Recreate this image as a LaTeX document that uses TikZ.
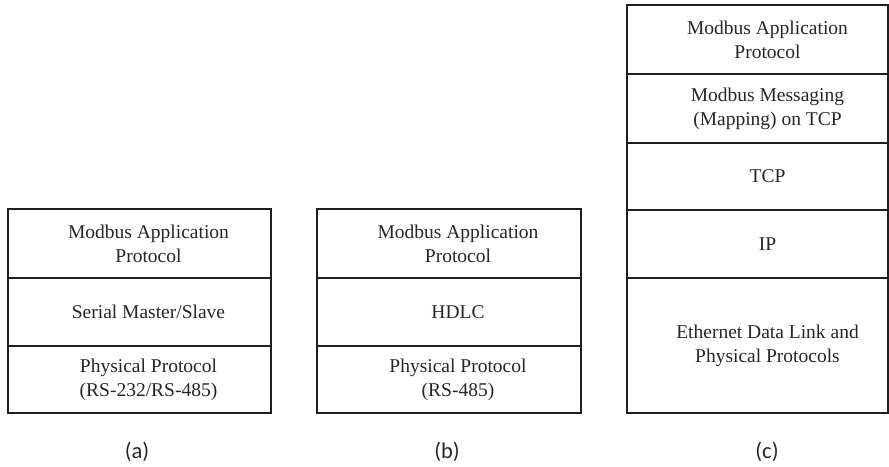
\documentclass[tikz,border=0pt]{standalone}
\usepackage{fontspec}
\setmainfont{Liberation Serif}
\newfontfamily\capfont{Carlito}
\tikzset{
  layer/.style={draw=black!88, line width=2.8pt, inner sep=0pt, outer sep=0pt,
    minimum width=#1},
  layer/.default=263pt,
  txt/.style={align=center, font=\fontsize{19.5}{24}\selectfont, text=black!85},
  caption/.style={font=\capfont\fontsize{22.5}{24}\selectfont, text=black!85}
}
\begin{document}
\begin{tikzpicture}[x=1pt,y=-1pt]
\useasboundingbox (0,0) rectangle (889,466);
% stack (a)
\node[layer, minimum height=69pt] (a1) at (139.5,243.5) {};
\node[layer, minimum height=68pt] (a2) at (139.5,312) {};
\node[layer, minimum height=67pt] (a3) at (139.5,379.5) {};
\node[txt] at ([xshift=9pt]a1.center) {Modbus Application\\Protocol};
\node[txt] at ([xshift=9pt]a2.center) {Serial Master/Slave};
\node[txt] at ([xshift=9pt]a3.center) {Physical Protocol\\(RS-232/RS-485)};
% stack (b)
\node[layer=264pt, minimum height=69pt] (b1) at (449,243.5) {};
\node[layer=264pt, minimum height=68pt] (b2) at (449,312) {};
\node[layer=264pt, minimum height=67pt] (b3) at (449,379.5) {};
\node[txt] at ([xshift=9pt]b1.center) {Modbus Application\\Protocol};
\node[txt] at ([xshift=9pt]b2.center) {HDLC};
\node[txt] at ([xshift=9pt]b3.center) {Physical Protocol\\(RS-485)};
% stack (c)
\node[layer=261pt, minimum height=69pt] (c1) at (757.5,39.5) {};
\node[layer=261pt, minimum height=69pt] (c2) at (757.5,108.5) {};
\node[layer=261pt, minimum height=67pt] (c3) at (757.5,176.5) {};
\node[layer=261pt, minimum height=68pt] (c4) at (757.5,244) {};
\node[layer=261pt, minimum height=135pt] (c5) at (757.5,345.5) {};
\node[txt] at ([xshift=10pt]c1.center) {Modbus Application\\Protocol};
\node[txt] at ([xshift=10pt]c2.center) {Modbus Messaging\\(Mapping) on TCP};
\node[txt] at ([xshift=10pt]c3.center) {TCP};
\node[txt] at ([xshift=10pt]c4.center) {IP};
\node[txt] at ([xshift=10pt]c5.center) {Ethernet Data Link and\\Physical Protocols};
% captions
\node[caption] (capa) at (137,452) {(a)};
\node[caption] (capb) at (447,452) {(b)};
\node[caption] (capc) at (767,452) {(c)};
\end{tikzpicture}
\end{document}
